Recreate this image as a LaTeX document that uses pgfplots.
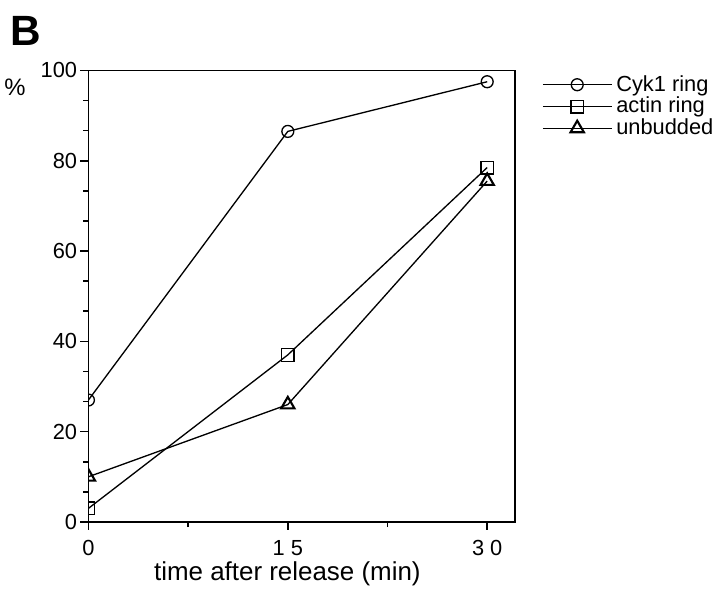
\documentclass[border=0pt]{standalone}
\usepackage{pgfplots}
\pgfplotsset{compat=1.18}
\usepackage{fontspec}
\setmainfont{Liberation Sans}
\begin{document}
\begin{tikzpicture}
\begin{axis}[
  scale only axis,
  width=322.5pt, height=341.25pt,
  at={(0,0)}, anchor=south west,
  xmin=0, xmax=32.1, ymin=0, ymax=100,
  xtick={0,15,30},
  xticklabels={0,\mbox{1 5},\mbox{3 0}},
  ytick={0,20,40,60,80,100},
  minor x tick num=1,
  minor y tick num=2,
  tick align=outside,
  tick pos=left,
  major tick length=6pt,
  minor tick length=4pt,
  every tick/.style={line width=1.2pt,black},
  axis line style={line width=1.1pt},
  /pgf/number format/assume math mode=true,
  tick label style={font=\fontsize{16.5}{16.5}\selectfont},
  xticklabel style={yshift=-4.5pt},
  yticklabel style={xshift=1pt},
  xlabel={time after release (min)},
  xlabel style={font=\fontsize{19.6}{20}\selectfont, at={(rel axis cs:0.4663,0)}, anchor=base, yshift=-44pt},
  clip marker paths=true,
  legend cell align=left,
  legend style={draw=none, fill=none, at={(rel axis cs:1.0535,0.999)}, anchor=north west,
    font=\fontsize{16.5}{16.5}\selectfont,
    cells={inner sep=0pt, text height=11pt, text depth=3.25pt},
    row sep=0pt},
  legend image code/.code={\draw[mark repeat=2,mark phase=2] plot coordinates {(0pt,0pt) (26pt,0pt) (52pt,0pt)}; \path (53pt,0pt);},
]
\addplot[black, line width=1pt, mark=o, mark size=4.5pt, mark options={fill=white, line width=1pt}]
  coordinates {(0,27) (15,86.5) (30,97.5)};
\addlegendentry{Cyk1 ring}
\addplot[black, line width=1pt, mark=square, mark size=4.8pt, mark options={fill=white, line width=1pt}]
  coordinates {(0,3) (15,37) (30,78.5)};
\addlegendentry{actin ring}
\addplot[black, line width=1pt, mark=triangle, mark size=5.8pt, mark options={fill=white, line width=1.6pt}]
  coordinates {(0,10) (15,26) (30,75.5)};
\addlegendentry{unbudded}
\end{axis}
\node[font=\fontsize{32}{32}\selectfont\bfseries] at (-47pt,371.25pt) {B};
\node[font=\fontsize{18}{18}\selectfont] at (-55.5pt,328.5pt) {\%};
\path[use as bounding box] (-65.25pt,-52.5pt) rectangle (474.75pt,394.5pt);
\end{tikzpicture}
\end{document}
